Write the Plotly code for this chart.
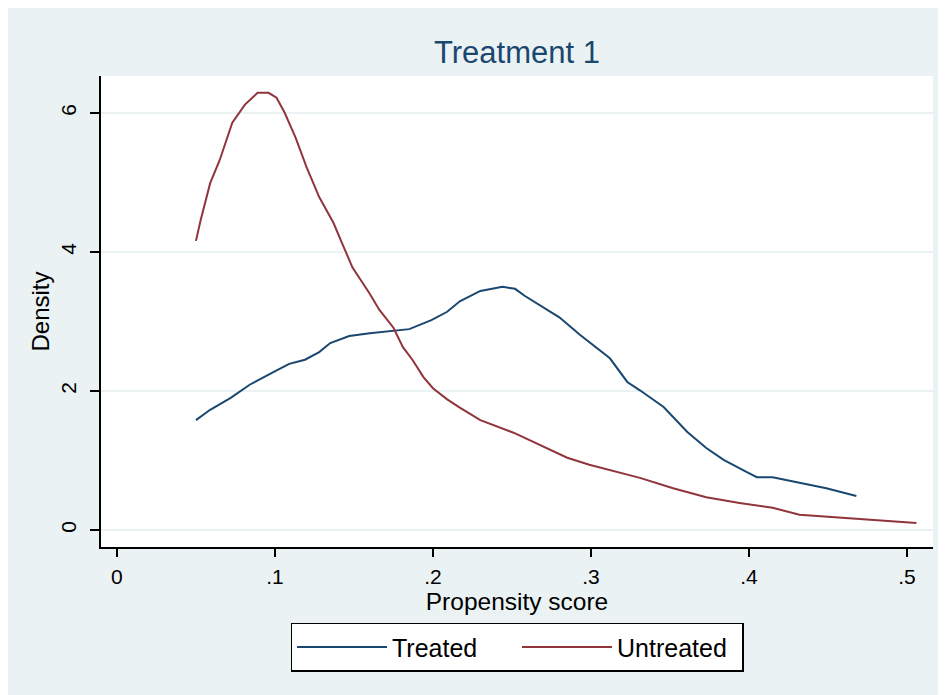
import plotly.graph_objects as go

# Kernel density estimates
treated_x = [0.050, 0.059, 0.072, 0.084, 0.099, 0.109, 0.119, 0.128, 0.135, 0.147,
             0.160, 0.175, 0.185, 0.199, 0.209, 0.217, 0.230, 0.244, 0.252, 0.258,
             0.271, 0.280, 0.293, 0.312, 0.323, 0.331, 0.346, 0.361, 0.373, 0.384,
             0.399, 0.405, 0.415, 0.432, 0.449, 0.468]
treated_y = [1.58, 1.73, 1.90, 2.09, 2.27, 2.39, 2.45, 2.56, 2.69, 2.79,
             2.83, 2.86, 2.89, 3.02, 3.14, 3.29, 3.44, 3.50, 3.47, 3.37,
             3.19, 3.06, 2.81, 2.47, 2.13, 2.01, 1.77, 1.41, 1.18, 1.01,
             0.83, 0.76, 0.76, 0.68, 0.60, 0.49]

untreated_x = [0.050, 0.053, 0.059, 0.065, 0.073, 0.081, 0.089, 0.096, 0.101, 0.106,
               0.113, 0.120, 0.128, 0.137, 0.143, 0.149, 0.160, 0.166, 0.175, 0.181,
               0.187, 0.194, 0.200, 0.209, 0.217, 0.230, 0.251, 0.268, 0.285, 0.299,
               0.318, 0.331, 0.352, 0.373, 0.394, 0.415, 0.432, 0.464, 0.483, 0.506]
untreated_y = [4.16, 4.46, 4.99, 5.32, 5.86, 6.12, 6.29, 6.29, 6.22, 6.01,
               5.65, 5.22, 4.79, 4.42, 4.10, 3.78, 3.40, 3.17, 2.91, 2.63,
               2.45, 2.20, 2.04, 1.88, 1.76, 1.58, 1.40, 1.22, 1.04, 0.94,
               0.83, 0.75, 0.60, 0.47, 0.39, 0.32, 0.22, 0.17, 0.14, 0.10]

x_ticks = [0, 0.1, 0.2, 0.3, 0.4, 0.5]
x_tick_labels = ["0", ".1", ".2", ".3", ".4", ".5"]
y_ticks = [0, 2, 4, 6]
y_tick_labels = ["0", "2", "4", "6"]

BLUE = "#1a476f"
RED = "#90353b"
BG = "#EAF2F3"
FONT = "Liberation Sans, Arial, sans-serif"

fig = go.Figure()
fig.add_trace(go.Scatter(x=treated_x, y=treated_y, mode="lines", name="Treated",
                         line=dict(color=BLUE, width=2)))
fig.add_trace(go.Scatter(x=untreated_x, y=untreated_y, mode="lines", name="Untreated",
                         line=dict(color=RED, width=2)))

fig.update_layout(
    width=946, height=695,
    margin=dict(l=93, r=21, t=68, b=156),
    paper_bgcolor=BG, plot_bgcolor="white",
    font=dict(family=FONT, color="black", size=21),
    title=dict(text="Treatment 1", x=0.5, xref="paper", xanchor="center",
               y=1 - 44 / 695, yref="container", yanchor="middle",
               font=dict(size=31, color=BLUE, family=FONT)),
    showlegend=True,
    legend=dict(orientation="h", x=0.5, xanchor="center", y=-0.161, yanchor="top",
                bgcolor="white", bordercolor="black", borderwidth=1.5,
                font=dict(size=25, color="black", family=FONT),
                itemwidth=90, entrywidth=120, entrywidthmode="pixels"),
    xaxis=dict(range=[-0.0101, 0.5165], tickvals=x_ticks, ticktext=x_tick_labels,
               showgrid=False, zeroline=False, showline=True, linecolor="black",
               linewidth=2, ticks="outside", ticklen=8, tickwidth=2, tickcolor="black",
               tickfont=dict(size=21), ticklabelstandoff=2,
               title=dict(text="Propensity score", font=dict(size=24.5), standoff=0)),
    yaxis=dict(range=[-0.2446, 6.532], tickvals=y_ticks, ticktext=y_tick_labels,
               showgrid=True, gridcolor=BG, gridwidth=2, zeroline=False,
               showline=True, linecolor="black", linewidth=2, ticks="outside",
               ticklen=9, tickwidth=2, tickcolor="black", tickangle=-90,
               tickfont=dict(size=21), ticklabelstandoff=6,
               title=dict(text="Density", font=dict(size=24), standoff=0)),
)

fig.write_html("out.html")
